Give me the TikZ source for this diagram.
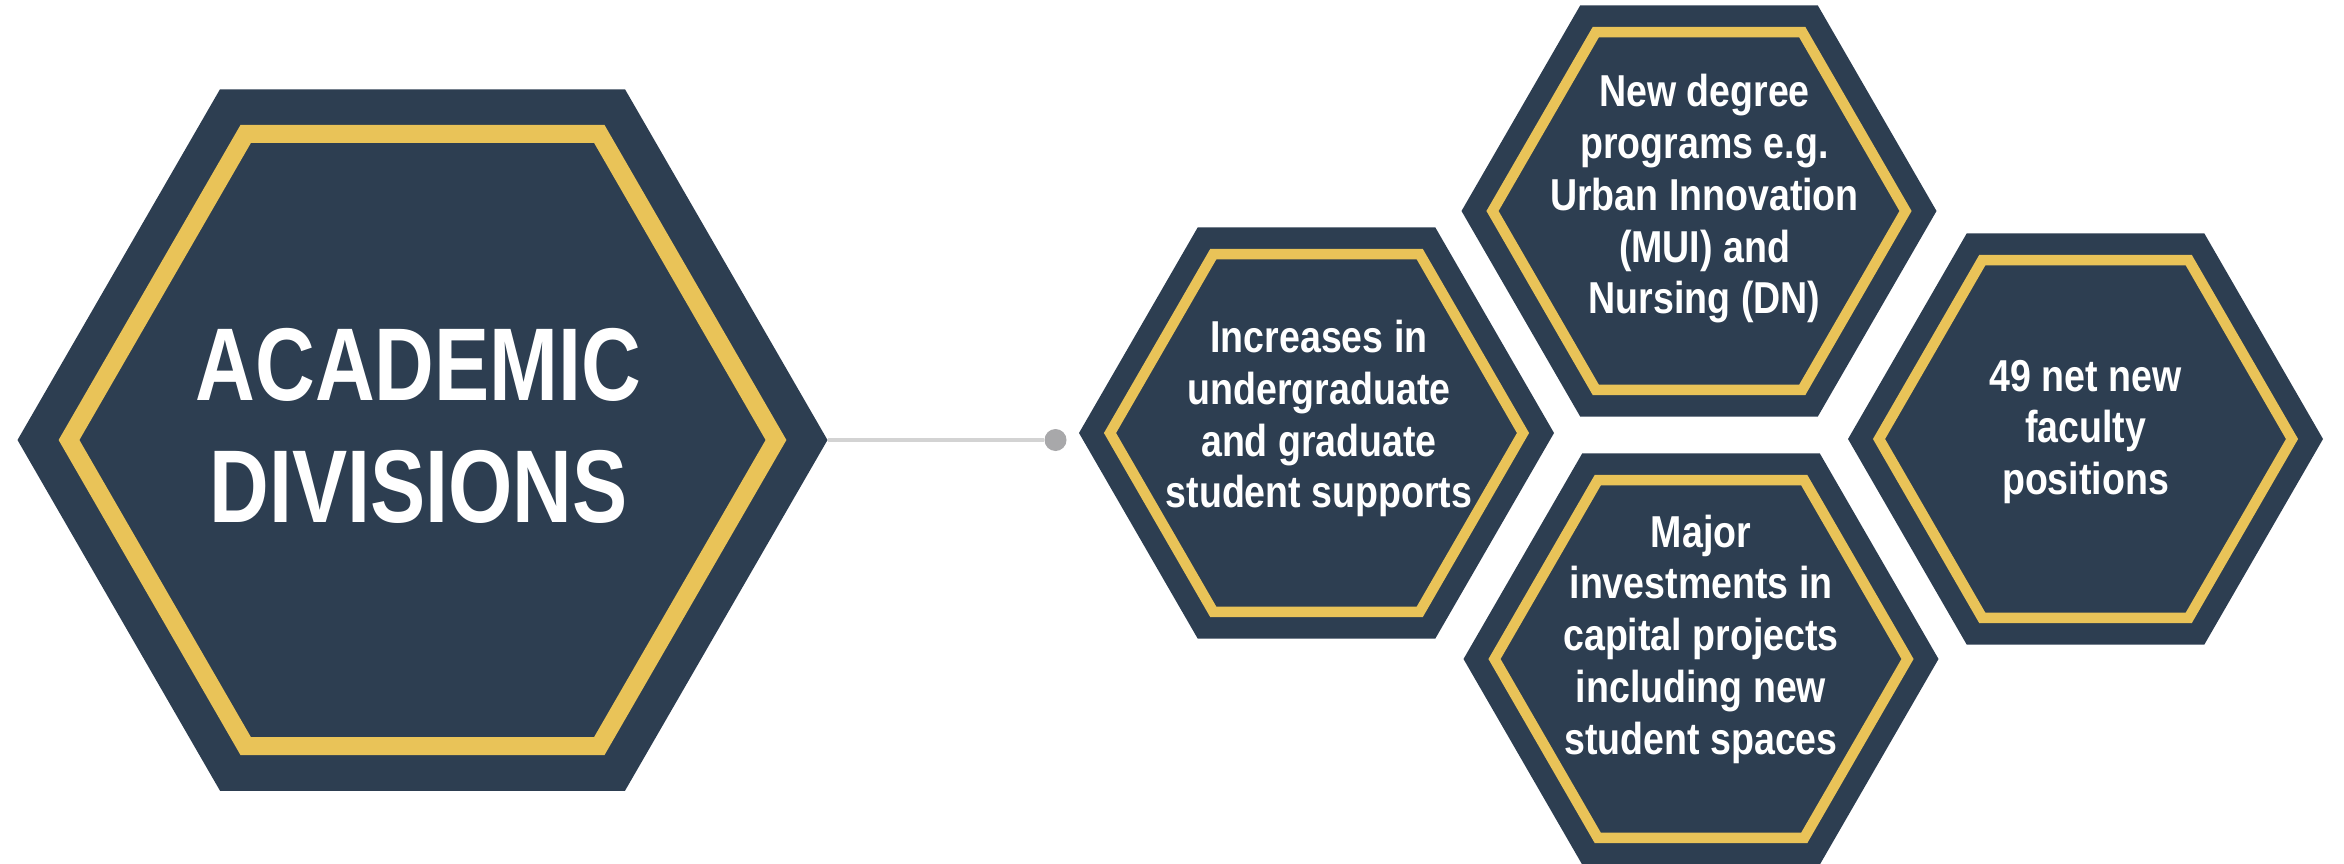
\documentclass[tikz,border=0pt]{standalone}
\usepackage{fontspec}
\newfontfamily\titlefont[FakeStretch=0.80]{Liberation Sans}
\newfontfamily\cellfont[FakeStretch=0.84]{Liberation Sans}
\usetikzlibrary{shapes.geometric}

\definecolor{hexnavy}{RGB}{45,62,81}
\definecolor{hexgold}{RGB}{233,195,88}
\definecolor{linkgray}{RGB}{211,211,211}
\definecolor{dotgray}{RGB}{168,168,170}

\tikzset{
  hexcell/.style={regular polygon,regular polygon sides=6,fill=hexnavy,
    inner sep=0pt,outer sep=0pt,minimum size=#1},
  hexrim/.style={regular polygon,regular polygon sides=6,draw=hexgold,
    inner sep=0pt,outer sep=0pt,minimum size=#1},
  cellnote/.style={text=white,align=center,inner sep=0pt,
    font=\cellfont\fontsize{44.7}{51.8}\bfseries}
}

\begin{document}
\begin{tikzpicture}[x=1pt,y=-1pt]

    \useasboundingbox (0,0) rectangle (2344,864);

    % Main hexagon
    \node [hexcell=810] (divisions) at (422.5,440) {};
    \node [hexrim=707,line width=18pt] (divisionsrim) at (divisions) {};
    \node [text=white,align=center,inner sep=0pt,xshift=-4pt,yshift=14pt,
        font=\titlefont\fontsize{103.4}{121.7}\bfseries] (divisionstext) at (divisions)
        {ACADEMIC\\DIVISIONS};

    % Connector to the cluster
    \node [circle,fill=dotgray,minimum size=22pt,inner sep=0pt] (hub) at (1055.5,440) {};
    \draw [linkgray,line width=4pt] (divisions.east) -- (hub);

    % Student supports
    \node [hexcell=475] (supports) at (1316.5,433) {};
    \node [hexrim=413,line width=10.5pt] (supportsrim) at (supports) {};
    \node [cellnote,xshift=2.5pt,yshift=14.3pt] (supportstext) at (supports)
        {Increases in\\undergraduate\\and graduate\\student supports};

    % Degree programs
    \node [hexcell=475] (degrees) at (1699,211) {};
    \node [hexrim=413,line width=10.5pt] (degreesrim) at (degrees) {};
    \node [cellnote,xshift=5.5pt,yshift=12.1pt] (degreestext) at (degrees)
        {New degree\\programs e.g.\\Urban Innovation\\(MUI) and\\Nursing (DN)};

    % Capital projects
    \node [hexcell=475] (capital) at (1701,659) {};
    \node [hexrim=413,line width=10.5pt] (capitalrim) at (capital) {};
    \node [cellnote,yshift=19.8pt] (capitaltext) at (capital)
        {Major\\investments in\\capital projects\\including new\\student spaces};

    % Faculty positions
    \node [hexcell=475] (faculty) at (2085.5,439) {};
    \node [hexrim=413,line width=10.5pt] (facultyrim) at (faculty) {};
    \node [cellnote,yshift=7pt] (facultytext) at (faculty)
        {49 net new\\faculty\\positions};

\end{tikzpicture}
\end{document}
